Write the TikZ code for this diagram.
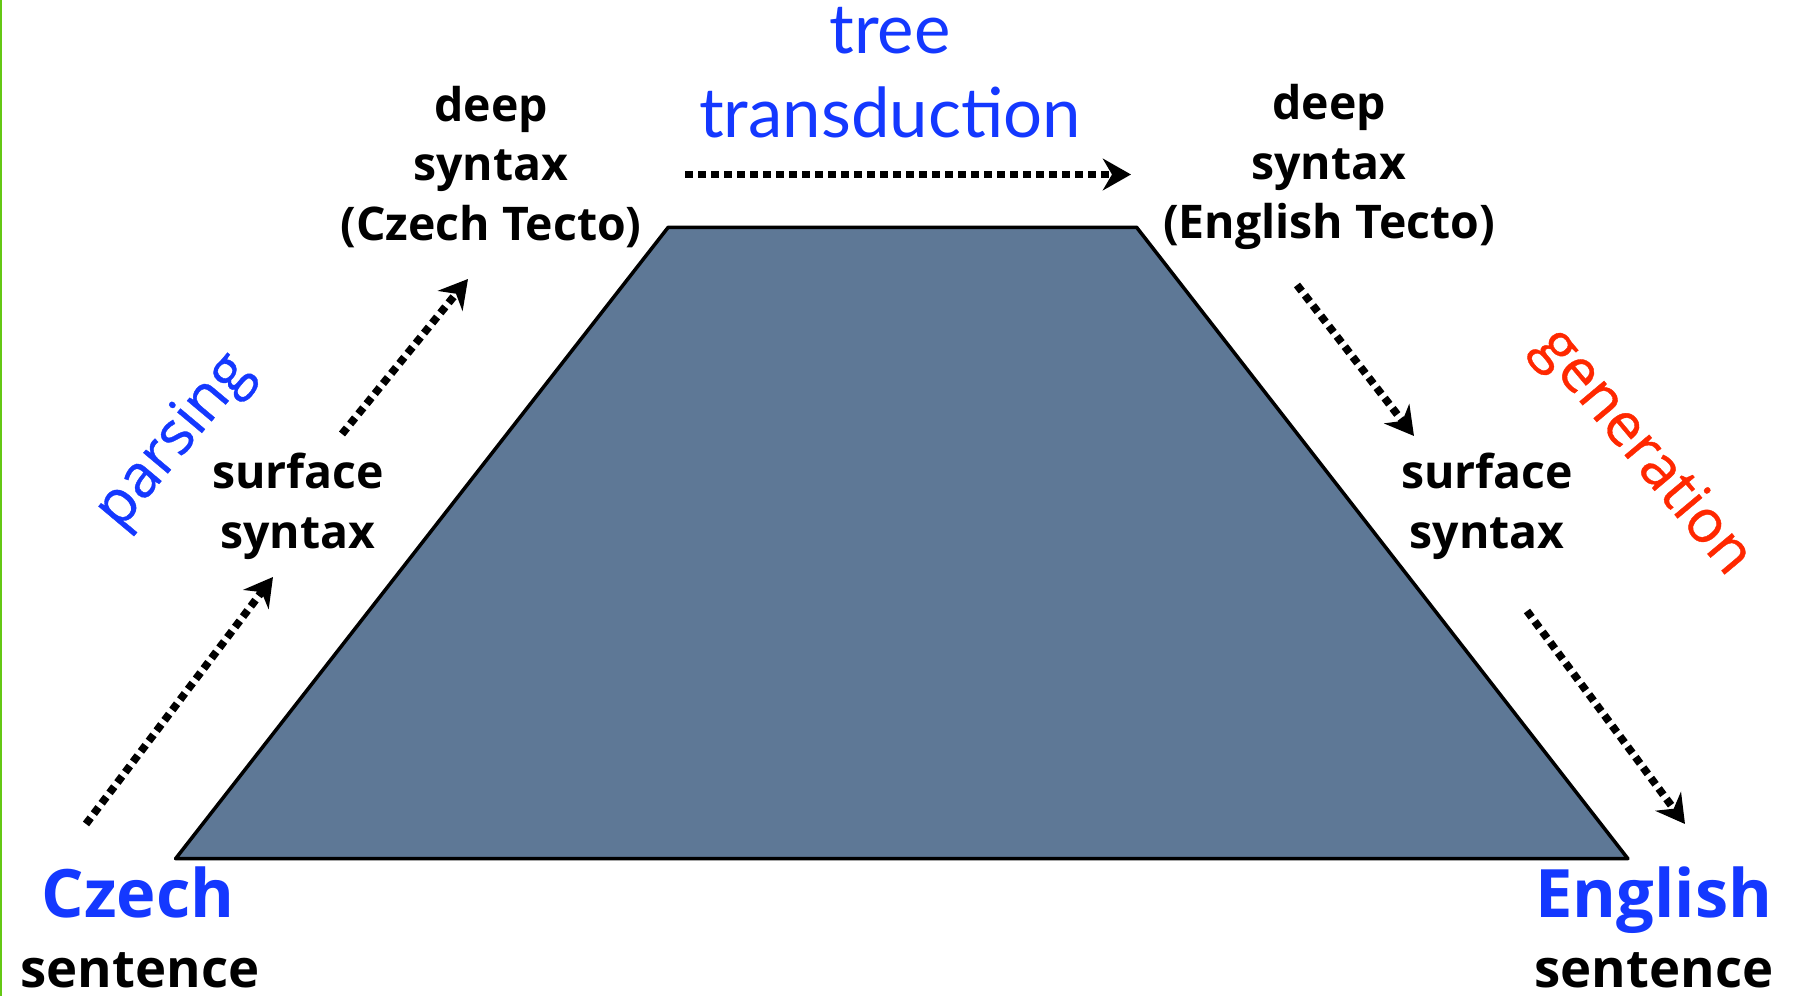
\documentclass[tikz,border=0pt]{standalone}
\usepackage{fontspec}
\setmainfont{Open Sans}
\newfontfamily\gillfont{Lato}
\newfontfamily\stepfont{Open Sans}[FakeBold=0.6]
\usepackage{tikz}
\usetikzlibrary{arrows.meta, positioning}

\definecolor{slate}{RGB}{94,120,150}
\definecolor{slideblue}{RGB}{20,56,255}
\definecolor{slidered}{RGB}{255,40,0}
\definecolor{slidegreen}{RGB}{100,200,20}

\begin{document}
\begin{tikzpicture}[
  level_label/.style={align=center, font=\fontsize{13.2}{17}\selectfont\bfseries},
  lang_label/.style={anchor=base, text=slideblue, font=\fontsize{19}{23}\selectfont\bfseries},
  sent_label/.style={anchor=base, font=\fontsize{15}{18}\selectfont\bfseries},
  step_label/.style={font=\stepfont\fontsize{17}{20}\selectfont},
  dot_arrow/.style={-{Stealth[length=8pt, width=9pt]}, line width=2.2pt, dash pattern=on 2.2pt off 1.5pt}
]
  \useasboundingbox (0,0) rectangle (18,9.96);

  % Slide edge
  \draw[slidegreen, line width=0.7pt] (0.01,0) -- (0.01,9.96);

  % Transfer trapezoid
  \draw[fill=slate, line width=1pt, line join=round] (1.756,1.373) -- (16.279,1.373) -- (11.366,7.687) -- (6.682,7.687) -- cycle;

  % Czech side
  \node[lang_label] (czlang) at (1.38, 0.78) {Czech};
  \node[sent_label] (czsent) at (1.40, 0.08) {sentence};
  \node[level_label] (czsurf) at (2.98, 4.90) {surface\\syntax};
  \node[level_label] (czdeep) at (4.91, 8.29) {deep\\syntax\\(Czech Tecto)};
  \node[step_label, text=slideblue, rotate=50] (parse) at (1.75, 5.54) {parsing};

  % Transfer step
  \node[align=center, text=slideblue, font=\gillfont\fontsize{19.6}{24}\selectfont] (transfer) at (8.90, 9.23) {tree\\transduction};

  % English side
  \node[level_label] (endeep) at (13.29, 8.29) {deep\\syntax\\(English Tecto)};
  \node[level_label] (ensurf) at (14.87, 4.90) {surface\\syntax};
  \node[lang_label] (enlang) at (16.54, 0.78) {English};
  \node[sent_label] (ensent) at (16.54, 0.08) {sentence};
  \node[step_label, text=slidered, rotate=-50] (generate) at (16.42, 5.43) {generation};

  % Arrow ends
  \coordinate (a1s) at (0.86, 1.72);
  \coordinate (a1e) at (2.73, 4.19);
  \coordinate (a2s) at (3.42, 5.62);
  \coordinate (a2e) at (4.68, 7.17);
  \coordinate (a3s) at (6.85, 8.215);
  \coordinate (a3e) at (11.31, 8.215);
  \coordinate (a4s) at (12.97, 7.11);
  \coordinate (a4e) at (14.14, 5.60);
  \coordinate (a5s) at (15.27, 3.85);
  \coordinate (a5e) at (16.85, 1.72);

  % Dotted arrows
  \draw[dot_arrow] (a1s) -- (a1e);
  \draw[dot_arrow] (a2s) -- (a2e);
  \draw[dot_arrow] (a3s) -- (a3e);
  \draw[dot_arrow] (a4s) -- (a4e);
  \draw[dot_arrow] (a5s) -- (a5e);

\end{tikzpicture}
\end{document}
